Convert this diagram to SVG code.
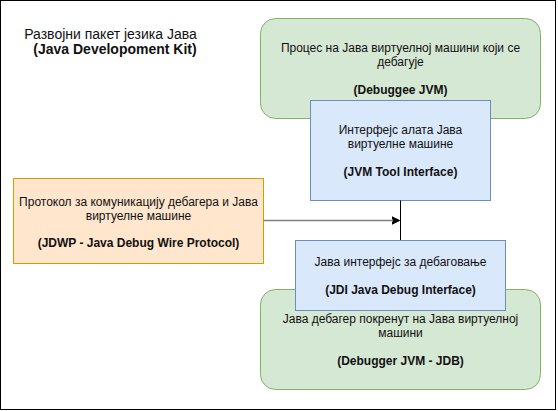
<svg xmlns="http://www.w3.org/2000/svg" width="558" height="411" viewBox="0 0 558 411">
  <style>
    text { font-family: "Liberation Sans", Arial, sans-serif; font-size: 12px; fill: #111; text-anchor: middle; }
    .b { font-weight: bold; }
    .title { font-size: 14px; }
    .green { fill: #d5e8d4; stroke: #82b366; stroke-width: 1; }
    .blue { fill: #dae8fc; stroke: #6c8ebf; stroke-width: 1; }
    .orange { fill: #ffe6cc; stroke: #d79b00; stroke-width: 1; }
  </style>
  <defs>
    <marker id="arrow" markerUnits="userSpaceOnUse" markerWidth="10" markerHeight="10" refX="8" refY="5" orient="auto" viewBox="0 0 10 10">
      <path d="M0,1 L8,5 L0,9 L2,5 Z" fill="#000" stroke="#000" stroke-width="1"/>
    </marker>
  </defs>
  <rect x="0.5" y="0.5" width="555" height="409" fill="#fff" stroke="#000" stroke-width="1"/>

  <g id="title">
    <text class="title" x="110.5" y="39">Развојни пакет језика Јава</text>
    <text class="title b" x="115" y="54">(Java Developoment Kit)</text>
  </g>

  <g id="debuggee-jvm">
    <rect class="green" x="260.5" y="18.5" width="280" height="100" rx="15" ry="15"/>
    <text x="400.5" y="52">Процес на Јава виртуелној машини који се</text>
    <text x="400.5" y="66">дебагује</text>
    <text class="b" x="400.5" y="94">(Debuggee JVM)</text>
  </g>

  <g id="jvmti">
    <rect class="blue" x="310.5" y="100.5" width="180" height="100"/>
    <text x="400.5" y="134">Интерфејс алата Јава</text>
    <text x="400.5" y="148">виртуелне машине</text>
    <text class="b" x="400.5" y="176">(JVM Tool Interface)</text>
  </g>

  <g id="jdwp">
    <rect class="orange" x="13.5" y="178.5" width="250" height="85"/>
    <text x="138.5" y="206">Протокол за комуникацију дебагера и Јава</text>
    <text x="138.5" y="220">виртуелне машине</text>
    <text class="b" x="138.5" y="247">(JDWP - Java Debug Wire Protocol)</text>
  </g>

  <g id="connectors">
    <line x1="400.5" y1="200.5" x2="400.5" y2="240.5" stroke="#000" stroke-width="1"/>
    <line x1="263.5" y1="220.5" x2="399.5" y2="220.5" stroke="#808080" stroke-width="1.5" marker-end="url(#arrow)"/>
  </g>

  <g id="debugger-jvm">
    <rect class="green" x="260.5" y="289.5" width="280" height="100" rx="15" ry="15"/>
    <text x="400.5" y="323">Јава дебагер покренут на Јава виртуелној</text>
    <text x="400.5" y="337">машини</text>
    <text class="b" x="400.5" y="365">(Debugger JVM - JDB)</text>
  </g>

  <g id="jdi">
    <rect class="blue" x="295.5" y="240.5" width="210" height="70"/>
    <text x="400.5" y="266">Јава интерфејс за дебаговање</text>
    <text class="b" x="400.5" y="294">(JDI Java Debug Interface)</text>
  </g>
</svg>
